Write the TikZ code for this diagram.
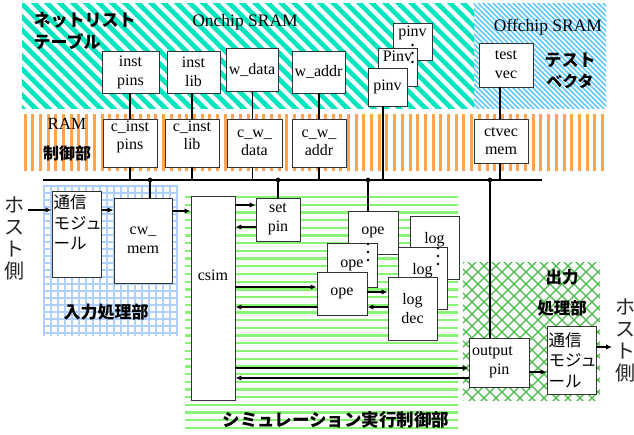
\documentclass[tikz,border=0pt]{standalone}
\usepackage{fontspec}
\setmainfont{Liberation Serif}
\newfontfamily\jp{Noto Sans CJK JP}
\usetikzlibrary{arrows.meta}
\definecolor{cyanS}{RGB}{0,230,190}
\definecolor{blueS}{RGB}{95,200,255}
\definecolor{orangeS}{RGB}{255,165,80}
\definecolor{greenS}{RGB}{135,245,115}
\definecolor{gridS}{RGB}{175,208,255}
\definecolor{hatchS}{RGB}{70,185,70}
\begin{document}
\begin{tikzpicture}[x=1pt,y=-1pt,
  box/.style={draw=black!80, fill=white, line width=0.9pt, inner sep=1pt, align=center,
    font=\fontsize{16}{19}\selectfont},
  cbox/.style={box, font=\fontsize{16}{18}\selectfont},
  jbox/.style={draw=black!80, fill=white, line width=0.9pt, inner xsep=1.5pt, align=left,
    text width=46pt, font=\jp\fontsize{16.5}{20.5}\selectfont},
  wire/.style={line width=1.4pt},
  arr/.style={line width=1.8pt, -{Latex[length=6pt,width=5.5pt]}},
  jlab/.style={font=\jp\bfseries\fontsize{17}{20}\selectfont},
  slab/.style={font=\fontsize{17.5}{20}\selectfont},
  host/.style={font=\jp\fontsize{20}{22}\selectfont, align=center, text=black!85},
  dot/.style={fill=black}
]
\useasboundingbox (0,0) rectangle (634,434);
% ---------- background patterns ----------
\begin{scope}
  \clip (22,3) rectangle (474,108);
  \foreach \c in {-130,-117,...,480} \draw[cyanS, line width=4.6pt] (\c,-5) -- (\c+120,115);
\end{scope}
\begin{scope}
  \clip (474,3) rectangle (606,108);
  \foreach \c in {350,355,...,612} \draw[blueS, line width=1.6pt] (\c,-5) -- (\c+120,115);
\end{scope}
\begin{scope}
  \clip (22,114) rectangle (604,170);
  \foreach \x in {25,32.7,...,604} \draw[orangeS, line width=3pt] (\x,110) -- (\x,175);
\end{scope}
\begin{scope}
  \clip (43,185) rectangle (178,335);
  \foreach \x in {44,51,...,178} \draw[gridS, line width=1.5pt] (\x,180) -- (\x,340);
  \foreach \y in {186,193,...,335} \draw[gridS, line width=1.5pt] (40,\y) -- (180,\y);
\end{scope}
\begin{scope}
  \clip (185,195) rectangle (458,433);
  \foreach \y in {197,204.7,...,434} \draw[greenS, line width=2.3pt] (180,\y) -- (460,\y);
\end{scope}
\begin{scope}
  \clip (463,262) rectangle (600,400);
  \foreach \c in {300,312,...,620} \draw[hatchS, line width=1.3pt] (\c,250) -- (\c+160,410);
  \foreach \c in {440,452,...,780} \draw[hatchS, line width=1.3pt] (\c,250) -- (\c-160,410);
\end{scope}
% ---------- region labels ----------
\node[jlab, anchor=west] (lnet) at (30,20) {ネットリスト};
\node[jlab, anchor=west] (ltab) at (30,42) {テーブル};
\node[slab] (lon) at (245,22) {Onchip SRAM};
\node[slab] (loff) at (548,27) {Offchip SRAM};
\node[jlab] (ltest) at (570,60) {テスト};
\node[jlab, font=\jp\bfseries\fontsize{16}{20}\selectfont] (lvec) at (570,81) {ベクタ};
\node[slab, font=\fontsize{17}{20}\selectfont] (lram) at (67,124) {RAM};
\node[jlab, font=\jp\bfseries\fontsize{16}{20}\selectfont] (lctl) at (67,153) {制御部};
\node[jlab] (lin) at (106,312) {入力処理部};
\node[jlab, font=\jp\bfseries\fontsize{17.5}{20}\selectfont] (lsim) at (336,420) {シミュレーション実行制御部};
\node[jlab, font=\jp\bfseries\fontsize{16.5}{20}\selectfont] (lout1) at (562,277) {出力};
\node[jlab, font=\jp\bfseries\fontsize{16.5}{20}\selectfont] (lout2) at (562,308) {処理部};
% ---------- top boxes ----------
\node[box, minimum width=57pt, minimum height=42pt] (instpins) at (130.5,72) {inst\\pins};
\node[box, minimum width=53pt, minimum height=42pt] (instlib) at (193.5,72) {inst\\lib};
\node[box, minimum width=52pt, minimum height=43pt] (wdata) at (252,69.5) {w\_data};
\node[box, minimum width=53pt, minimum height=42pt] (waddr) at (318.5,72) {w\_addr};
\node[box, minimum width=39pt, minimum height=37pt] (pinv3) at (412.5,41.5) {pinv\\[2pt]\mbox{}};
\node[box, minimum width=39pt, minimum height=38pt] (pinv2) at (397.5,67) {Pinv\\[2pt]\mbox{}};
\fill[dot] (412.5,45) circle (1.4pt) (412.5,53) circle (1.4pt) (412.5,62) circle (1.4pt);
\node[box, minimum width=39pt, minimum height=38pt] (pinv1) at (387.5,87) {pinv};
\node[box, minimum width=54pt, minimum height=44pt] (testvec) at (506,65) {test\\vec};
% ---------- RAM control boxes ----------
\node[cbox, minimum width=54pt, minimum height=48pt] (cinstpins) at (130,143) {c\_inst\\pins\\[-2pt]\mbox{}};
\node[cbox, minimum width=54pt, minimum height=48pt] (cinstlib) at (192,143) {c\_inst\\lib\\[-2pt]\mbox{}};
\node[cbox, minimum width=55pt, minimum height=48pt] (cwdata) at (254.5,143) {c\_w\_\\data};
\node[cbox, minimum width=54pt, minimum height=48pt] (cwaddr) at (319,143) {c\_w\_\\addr};
\node[cbox, minimum width=54pt, minimum height=44pt] (ctvec) at (501,141) {ctvec\\mem};
% ---------- bus ----------
\coordinate (busL) at (43,180);
\coordinate (busR) at (542,180);
\draw[wire] (busL) -- (busR);
\draw[wire] (cinstpins.north |- instpins.south) -- (cinstpins.north);
\draw[wire] (cinstpins.south) -- (cinstpins.south |- busL);
\draw[wire] (cinstlib.north |- instlib.south) -- (cinstlib.north);
\draw[wire] (cinstlib.south) -- (cinstlib.south |- busL);
\draw[wire] ([xshift=-2pt]cwdata.north |- wdata.south) -- ([xshift=-2pt]cwdata.north);
\draw[wire] ([xshift=-2pt]cwdata.south) -- ([xshift=-2pt]cwdata.south |- busL);
\draw[wire] (cwaddr.north |- waddr.south) -- (cwaddr.north);
\draw[wire] (cwaddr.south) -- (cwaddr.south |- busL);
\draw[wire] ([xshift=-4.5pt]pinv1.south) -- ([xshift=-4.5pt]pinv1.south |- busL);
\draw[wire] ([xshift=-1pt]ctvec.north |- testvec.south) -- ([xshift=-1pt]ctvec.north);
\draw[wire] ([xshift=-1pt]ctvec.south) -- ([xshift=-1pt]ctvec.south |- busL);
\coordinate (j1) at (150,180);
\coordinate (j2) at (278,180);
\coordinate (j3) at (368,180);
\coordinate (j4) at (490,180);
\foreach \j in {j1,j2,j3,j4} \fill[dot] (\j) circle (2.3pt);
% ---------- input side ----------
\node[host] (hostin) at (15,238) {ホ\\ス\\ト\\側};
\node[jbox, minimum height=73pt] (tsu1) at (76.5,234.5) {通信\\モジュ\\ール\\[4pt]\mbox{}};
\node[box, minimum width=58pt, minimum height=85pt] (cwmem) at (143,240.5) {cw\_\\mem};
\draw[wire] (j1) -- (j1 |- cwmem.north);
% ---------- simulation ----------
\node[box, minimum width=44pt, minimum height=204pt] (csim) at (213,298) {};
\node[font=\fontsize{16}{19}\selectfont] (csimtxt) at (213,275) {csim};
\node[box, minimum width=44pt, minimum height=43pt] (setpin) at (278,219.5) {set\\pin};
\draw[wire] (j2) -- (setpin.north);
\node[box, minimum width=50pt, minimum height=43pt] (ope3) at (373,232.5) {ope};
\draw[wire] (j3) -- (j3 |- ope3.north);
\node[box, minimum width=50pt, minimum height=44pt] (ope2) at (352,265) {ope};
\fill[dot] (368,244) circle (1.4pt) (368,252) circle (1.4pt) (368,260) circle (1.4pt);
\node[box, minimum width=50pt, minimum height=43pt] (ope1) at (342,293.5) {ope};
\node[box, minimum width=49pt, minimum height=63pt] (log3) at (434.5,247.5) {log\\\mbox{}};
\node[box, minimum width=49pt, minimum height=62pt] (log2) at (422.5,278) {log\\\mbox{}};
\fill[dot] (438,248) circle (1.4pt) (438,256) circle (1.4pt) (438,264) circle (1.4pt);
\node[box, minimum width=49pt, minimum height=63pt] (logdec) at (412.5,308.5) {log\\dec};
% ---------- output side ----------
\node[box, align=left, text width=54pt, inner xsep=3pt, minimum height=49pt] (outpin) at (499,362.5) {output\\\hspace*{17pt}pin};
\draw[wire] (j4) -- (j4 |- outpin.north);
\node[jbox, minimum height=68pt] (tsu2) at (571.5,360) {通信\\モジュ\\ール};
\node[host] (hostout) at (625,340) {ホ\\ス\\ト\\側};
% ---------- arrows ----------
\coordinate (hin) at (28,210);
\draw[arr] (hin) -- (hin -| tsu1.west);
\draw[arr] (tsu1.east |- hin) -- (cwmem.west |- hin);
\coordinate (y1) at (0,211);
\draw[arr] (cwmem.east |- y1) -- (csim.west |- y1);
\coordinate (y2) at (0,205);
\coordinate (y3) at (0,227);
\draw[arr] (csim.east |- y2) -- (setpin.west |- y2);
\draw[arr] (setpin.west |- y3) -- (csim.east |- y3);
\coordinate (y4) at (0,287);
\coordinate (y5) at (0,307);
\draw[arr] (csim.east |- y4) -- (ope1.west |- y4);
\draw[arr] (ope1.west |- y5) -- (csim.east |- y5);
\coordinate (y6) at (0,292);
\draw[arr] (ope1.east |- y6) -- (logdec.west |- y6);
\draw[arr] (logdec.west |- y5) -- (ope1.east |- y5);
\coordinate (y7) at (0,368);
\coordinate (y8) at (0,378);
\draw[arr] (csim.east |- y7) -- (outpin.west |- y7);
\draw[arr] (outpin.west |- y8) -- (csim.east |- y8);
\coordinate (y9) at (0,372);
\draw[arr] (outpin.east |- y9) -- (tsu2.west |- y9);
\coordinate (hout) at (612,347);
\draw[arr] (tsu2.east |- hout) -- (hout);
\end{tikzpicture}
\end{document}
